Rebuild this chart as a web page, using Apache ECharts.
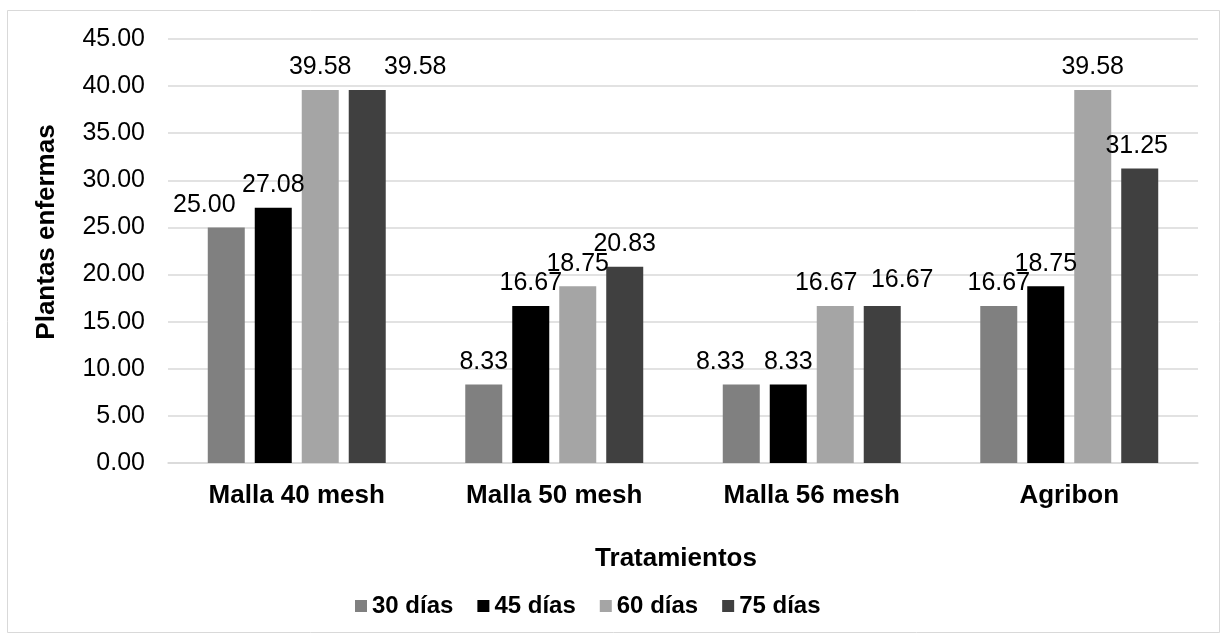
<!DOCTYPE html>
<html>
<head>
<meta charset="utf-8">
<script src="https://cdn.jsdelivr.net/npm/echarts@6/dist/echarts.min.js"></script>
<style>html,body{margin:0;padding:0;background:#fff}#c{width:1227px;height:639px}</style>
</head>
<body>
<div id="c"></div>
<script>
const categories = ['Malla 40 mesh', 'Malla 50 mesh', 'Malla 56 mesh', 'Agribon'];
const seriesNames = ['30 días', '45 días', '60 días', '75 días'];
const d30 = [25.00, 8.33, 8.33, 16.67];
const d45 = [27.08, 16.67, 8.33, 18.75];
const d60 = [39.58, 18.75, 16.67, 39.58];
const d75 = [39.58, 20.83, 16.67, 31.25];
const yTicks = [0, 5, 10, 15, 20, 25, 30, 35, 40, 45];

// styling: colours and label nudges (to mimic the original's label placement)
const colors = ['#808080', '#000000', '#a5a5a5', '#404040'];
const nudges = [
  [[-22, 0], [0, 0], [-21, 0], [0, 0]],
  [[0, 0], [0, 0], [0, 0], [0, 0]],
  [[0, 0], [0, 0], [-9, 0], [0, 0]],
  [[48, 0], [0, 0], [20, -3], [-3, 0]]
];

const FONT = '"Liberation Sans", Arial, sans-serif';
const values = [d30, d45, d60, d75];
const series = values.map((vals, si) => ({
  name: seriesNames[si],
  type: 'bar',
  barWidth: 37,
  barGap: '27%',
  itemStyle: { color: colors[si] },
  data: vals.map((v, ci) => ({
    value: v,
    label: { offset: nudges[si][ci] }
  })),
  label: {
    show: true,
    position: 'top',
    distance: 10,
    color: '#000',
    fontFamily: FONT,
    fontSize: 25,
    formatter: p => p.value.toFixed(2)
  }
}));

const chart = echarts.init(document.getElementById('c'), null, { renderer: 'canvas' });
chart.setOption({
  animation: false,
  backgroundColor: '#fff',
  textStyle: { fontFamily: FONT },
  grid: { left: 168, right: 29, top: 39, bottom: 176, containLabel: false },
  graphic: [{
    type: 'rect',
    shape: { x: 7.5, y: 10.5, width: 1212, height: 622 },
    style: { fill: 'none', stroke: '#d9d9d9', lineWidth: 1 },
    silent: true
  }],
  legend: {
    data: seriesNames,
    left: 355,
    top: 594,
    padding: 0,
    itemWidth: 12,
    itemHeight: 12,
    itemGap: 24,
    icon: 'rect',
    textStyle: { fontFamily: FONT, fontSize: 24, fontWeight: 'bold', color: '#000' }
  },
  xAxis: {
    type: 'category',
    data: categories,
    name: 'Tratamientos',
    nameLocation: 'middle',
    nameGap: 83,
    nameTextStyle: { fontFamily: FONT, fontSize: 26, fontWeight: 'bold', color: '#000', padding: [0, 14, 0, 0] },
    axisLine: { lineStyle: { color: '#d9d9d9', width: 1.5 } },
    axisTick: { show: false },
    axisLabel: { margin: 20, fontFamily: FONT, fontSize: 26, fontWeight: 'bold', color: '#000' }
  },
  yAxis: {
    type: 'value',
    min: yTicks[0],
    max: yTicks[yTicks.length - 1],
    interval: 5,
    name: 'Plantas enfermas',
    nameLocation: 'middle',
    nameGap: 108,
    nameTextStyle: { fontFamily: FONT, fontSize: 26, fontWeight: 'bold', color: '#000', padding: [0, 0, 0, 38] },
    axisLine: { show: false },
    axisTick: { show: false },
    splitLine: { lineStyle: { color: '#d9d9d9', width: 1.5 } },
    axisLabel: { margin: 23, fontFamily: FONT, fontSize: 25, color: '#000', formatter: v => v.toFixed(2) }
  },
  series: series
});
</script>
</body>
</html>
